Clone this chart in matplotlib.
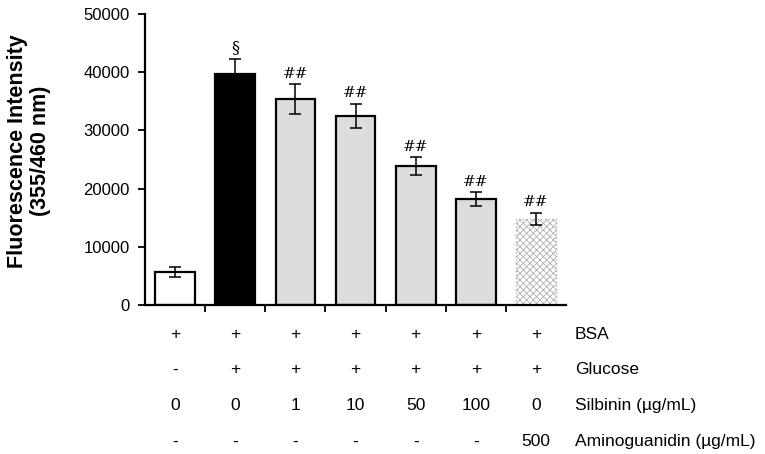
import numpy as np
import matplotlib
matplotlib.use("Agg")
import matplotlib.pyplot as plt

plt.rcParams['font.family'] = ['Liberation Sans', 'DejaVu Sans']
plt.rcParams['hatch.linewidth'] = 0.6

# values
values = [5700, 39700, 35400, 32500, 23900, 18150, 14800]
errors = [800, 2500, 2500, 2100, 1500, 1200, 1100]
marks = ['', '\u00a7', '##', '##', '##', '##', '##']
bsa = ['+', '+', '+', '+', '+', '+', '+']
glucose = ['-', '+', '+', '+', '+', '+', '+']
silbinin = ['0', '0', '1', '10', '50', '100', '0']
amino = ['-', '-', '-', '-', '-', '-', '500']
row_names = ['BSA', 'Glucose', 'Silbinin (\u00b5g/mL)', 'Aminoguanidin (\u00b5g/mL)']

fig = plt.figure(figsize=(7.65, 4.54), dpi=100)
ax = fig.add_axes([0.1895, 0.328, 0.5505, 0.641])

x = np.arange(len(values))
colors = ['white', 'black', '#dcdcdc', '#dcdcdc', '#dcdcdc', '#dcdcdc', 'white']
ax.bar(x[:6], values[:6], width=0.66, color=colors[:6], edgecolor='black',
       linewidth=1.6, zorder=2)
ax.bar(x[6], values[6], width=0.66, color='white', edgecolor='#b0b0b0',
       hatch='xxxxx', linewidth=1.0, linestyle=':', zorder=2)
ax.errorbar(x, values, yerr=errors, fmt='none', ecolor='black', elinewidth=1.1,
            capsize=4, capthick=1.1, zorder=3)

for i in range(len(values)):
    if marks[i]:
        ax.text(x[i], values[i] + errors[i] + 600, marks[i], ha='center', va='bottom',
                fontsize=11.5 if marks[i] == '\u00a7' else 11, family=['DejaVu Serif'])

ax.set_xlim(-0.5, 6.5)
ax.set_ylim(0, 50000)
ax.set_yticks(np.arange(0, 50001, 10000))
ax.set_xticks(np.arange(0.5, 6, 1))
ax.set_xticklabels([])
ax.tick_params(axis='x', direction='out', length=5, width=1.3)
ax.tick_params(axis='y', direction='out', length=5, width=1.3, labelsize=12, pad=6)
for s in ['top', 'right']:
    ax.spines[s].set_visible(False)
for s in ['left', 'bottom']:
    ax.spines[s].set_linewidth(1.6)

fig.text(29 / 765, 1 - 151 / 454, 'Fluorescence Intensity\n(355/460 nm)', rotation=90,
         ha='center', va='center', fontsize=15.5, fontweight='bold', linespacing=1.1)

trans = ax.get_xaxis_transform()
rows = [bsa, glucose, silbinin, amino]
row_y = [-0.1, -0.223, -0.346, -0.47]
for r, yy, name in zip(rows, row_y, row_names):
    for i, t in enumerate(r):
        ax.text(x[i], yy, t, transform=trans, ha='center', va='center', fontsize=12.5)
    ax.text(6.65, yy, name, transform=trans, ha='left', va='center', fontsize=12.5)

fig.savefig('out.png', dpi=100)
